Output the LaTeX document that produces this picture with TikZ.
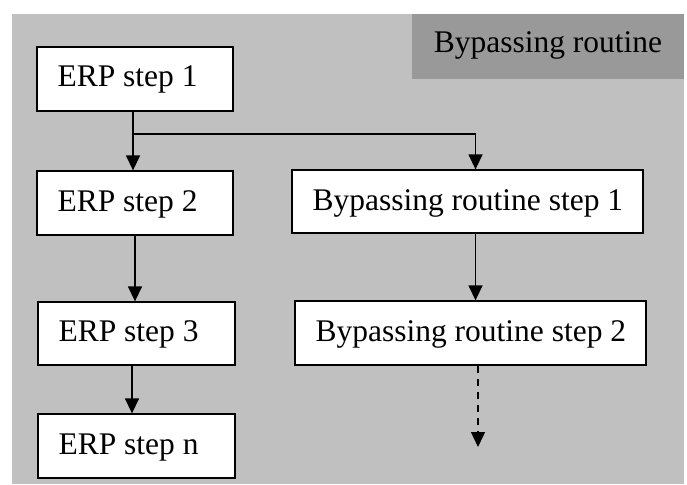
\documentclass[tikz,border=0pt]{standalone}
\usepackage{fontspec}
\setmainfont{Liberation Serif}
\usetikzlibrary{arrows.meta,calc}

\definecolor{panel}{HTML}{C0C0C0}
\definecolor{banner}{HTML}{999999}

\tikzset{
  stepbox/.style={draw=black, line width=1.3pt, fill=white, inner sep=0pt},
  steptext/.style={anchor=base west, inner sep=0pt, font=\fontsize{31.5}{36}\selectfont},
  flow/.style={line width=1.4pt, -{Triangle[width=14pt,length=15pt]}},
  plain/.style={line width=1.4pt},
}

\begin{document}
\begin{tikzpicture}[x=1pt,y=-1pt]
  \useasboundingbox (0,0) rectangle (687,484);
  % panel and title banner
  \fill[panel] (12,14) rectangle (684,484);
  \fill[banner] (412,14) rectangle (684,79);
  \node[steptext, anchor=base] (title) at (548,53) {Bypassing routine};

  % ERP chain
  \node[stepbox, minimum width=196pt, minimum height=64pt] (e1) at (135,79) {};
  \node[stepbox, minimum width=196pt, minimum height=64pt] (e2) at (135,203) {};
  \node[stepbox, minimum width=197pt, minimum height=63pt] (e3) at (136.5,333.5) {};
  \node[stepbox, minimum width=197pt, minimum height=64pt] (en) at (136.5,446) {};
  % bypassing routine chain
  \node[stepbox, minimum width=351pt, minimum height=63pt] (b1) at (467.5,201.5) {};
  \node[stepbox, minimum width=351pt, minimum height=64pt] (b2) at (470.5,333) {};

  % box labels
  \node[steptext] (t1) at ($(e1.west)+(21,8)$) {ERP step 1};
  \node[steptext] (t2) at ($(e2.west)+(21,8)$) {ERP step 2};
  \node[steptext] (t3) at ($(e3.west)+(21,8)$) {ERP step 3};
  \node[steptext] (tn) at ($(en.west)+(21,8)$) {ERP step n};
  \node[steptext] (u1) at ($(b1.west)+(21,8.5)$) {Bypassing routine step 1};
  \node[steptext] (u2) at ($(b2.west)+(21,8.5)$) {Bypassing routine step 2};

  % connectors
  \coordinate (split) at (133,134);
  \coordinate (turn) at (475.5,134);
  \coordinate (more) at (478,447);
  \draw[plain] (e1.south -| split) -- (split);
  \draw[flow] (split) -- (split |- e2.north);
  \draw[flow] (split) -- (turn) -- (turn |- b1.north);
  \draw[flow] (e2.south) -- (e3.north -| e2.south);
  \draw[flow] ($(e3.south)+(-4.5,0)$) -- ($(en.north)+(-4.5,0)$);
  \draw[flow] (b1.south -| turn) -- (b2.north -| turn);
  \draw[flow, dash pattern=on 7pt off 6pt] (b2.south -| more) -- (more);
\end{tikzpicture}
\end{document}
